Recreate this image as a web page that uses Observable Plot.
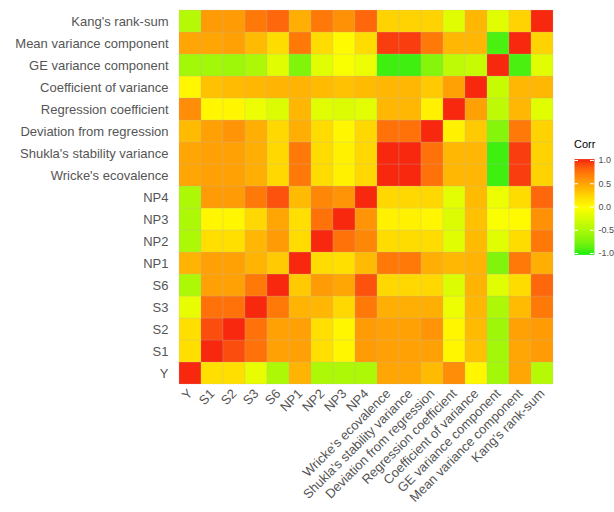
<!DOCTYPE html>
<html>
<head>
<meta charset="utf-8">
<script src="https://cdn.jsdelivr.net/npm/d3@7"></script>
<script src="https://cdn.jsdelivr.net/npm/@observablehq/plot@0.6"></script>
<style>
  html, body { margin: 0; padding: 0; background: #fff; }
  #wrap { position: relative; width: 614px; height: 512px; overflow: hidden; font-family: "Liberation Sans", Arial, sans-serif; }
  #legend { position: absolute; left: 574px; top: 150px; }
  #ltitle { position: absolute; left: 574px; top: 138px; font-size: 11px; color: #000; font-family: "Liberation Sans", Arial, sans-serif; }
</style>
</head>
<body>
<div id="wrap">
  <div id="main"></div>
  <div id="ltitle">Corr</div>
  <div id="legend"></div>
</div>
<script>
const variables = ["Y", "S1", "S2", "S3", "S6", "NP1", "NP2", "NP3", "NP4",
  "Wricke's ecovalence", "Shukla's stability variance", "Deviation from regression",
  "Regression coefficient", "Coefficient of variance", "GE variance component",
  "Mean variance component", "Kang's rank-sum"];

// lower triangle of the correlation matrix (row i, columns 0..i)
const rowY    = [1];
const rowS1   = [0.18, 1];
const rowS2   = [0.18, 0.9, 1];
const rowS3   = [-0.15, 0.75, 0.75, 1];
const rowS6   = [-0.5, 0.52, 0.52, 0.72, 1];
const rowNP1  = [0.42, 0.52, 0.52, 0.42, 0.3, 1];
const rowNP2  = [-0.5, 0.18, 0.18, 0.4, 0.55, 0.2, 1];
const rowNP3  = [-0.5, 0.05, 0.05, 0.22, 0.5, 0.18, 0.75, 1];
const rowNP4  = [-0.5, 0.55, 0.55, 0.72, 0.88, 0.38, 0.65, 0.58, 1];
const rowWr   = [0.5, 0.52, 0.52, 0.45, 0.22, 0.72, 0.2, 0.08, 0.22, 1];
const rowSh   = [0.5, 0.52, 0.52, 0.45, 0.22, 0.72, 0.2, 0.08, 0.22, 1, 1];
const rowDev  = [0.38, 0.52, 0.58, 0.45, 0.22, 0.45, 0.2, 0.05, 0.22, 0.75, 0.75, 1];
const rowReg  = [0.62, 0.05, 0.05, -0.12, -0.22, 0.4, -0.2, -0.22, -0.18, 0.4, 0.4, 0.08, 1];
const rowCV   = [0.05, 0.35, 0.38, 0.4, 0.42, 0.42, 0.38, 0.35, 0.38, 0.4, 0.4, 0.3, 0.52, 1];
const rowGE   = [-0.55, -0.55, -0.58, -0.5, -0.2, -0.72, -0.2, -0.04, -0.12, -0.95, -0.95, -0.7, -0.4, -0.35, 1];
const rowMean = [0.5, 0.5, 0.52, 0.38, 0.2, 0.72, 0.2, 0.03, 0.2, 0.95, 0.95, 0.72, 0.4, 0.4, -0.92, 1];
const rowKang = [-0.45, 0.55, 0.55, 0.72, 0.8, 0.45, 0.72, 0.6, 0.8, 0.25, 0.25, 0.25, -0.2, 0.4, -0.2, 0.25, 1];

const lower = [rowY, rowS1, rowS2, rowS3, rowS6, rowNP1, rowNP2, rowNP3, rowNP4,
  rowWr, rowSh, rowDev, rowReg, rowCV, rowGE, rowMean, rowKang];

const legendTicks = [-1, -0.5, 0, 0.5, 1];

const cells = [];
variables.forEach((vx, i) => {
  variables.forEach((vy, j) => {
    const a = Math.max(i, j), b = Math.min(i, j);
    cells.push({x: vx, y: vy, corr: lower[a][b]});
  });
});

const colorOpts = {
  type: "linear",
  domain: [-1, 0, 1],
  range: ["#22ee11", "#ffff00", "#f8280f"],
  interpolate: d3.interpolateLab
};

const main = Plot.plot({
  width: 614,
  height: 512,
  marginLeft: 177,
  marginRight: 60,
  marginTop: 9,
  marginBottom: 127,
  style: {fontFamily: "Liberation Sans, Arial, sans-serif", fontSize: "13px", color: "#555", background: "#fff"},
  x: {domain: variables, padding: 0, label: null, tickRotate: -45, tickSize: 0, tickPadding: 6},
  y: {domain: variables.slice().reverse(), padding: 0, label: null, tickSize: 0, tickPadding: 9},
  color: colorOpts,
  marks: [
    Plot.cell(cells, {x: "x", y: "y", fill: "corr", inset: 0, stroke: "#bbb", strokeWidth: 0.2}),
    Plot.axisX({tickRotate: -45, tickSize: 0, tickPadding: 6, fontSize: 13, fill: "#555", label: null}),
    Plot.axisY({tickSize: 0, tickPadding: 9, fontSize: 13, fill: "#555", label: null})
  ]
});
document.getElementById("main").appendChild(main);

const legend = Plot.plot({
  width: 40,
  height: 115,
  marginLeft: 0,
  marginRight: 20,
  marginTop: 10,
  marginBottom: 12,
  style: {fontFamily: "Liberation Sans, Arial, sans-serif", fontSize: "9px", color: "#4d4d4d", background: "transparent", overflow: "visible"},
  x: {domain: [0, 1], axis: null},
  y: {domain: [-1, 1], axis: null},
  color: colorOpts,
  marks: [
    Plot.raster({x1: 0, x2: 1, y1: -1.03, y2: 1.03, width: 1, height: 120, fill: (x, y) => Math.max(-1, Math.min(1, y)), imageRendering: "auto"}),
    Plot.ruleY(legendTicks, {x1: 0, x2: 0.2, stroke: "white", strokeWidth: 1}),
    Plot.ruleY(legendTicks, {x1: 0.8, x2: 1, stroke: "white", strokeWidth: 1}),
    Plot.axisY(legendTicks, {anchor: "right", tickSize: 0, tickPadding: 4, fontSize: 9, fill: "#4d4d4d", tickFormat: d => d.toFixed(1), label: null})
  ]
});
document.getElementById("legend").appendChild(legend);
</script>
</body>
</html>
